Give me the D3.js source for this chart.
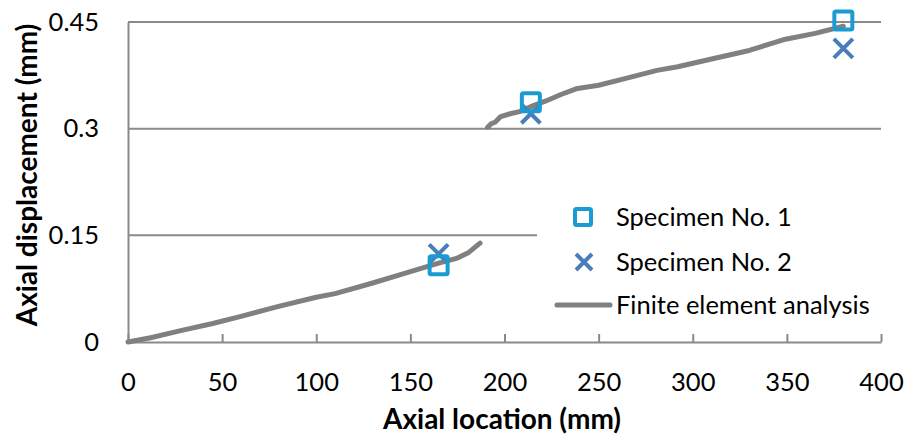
<!DOCTYPE html>
<html>
<head>
<meta charset="utf-8">
<script src="https://cdn.jsdelivr.net/npm/d3@7"></script>
<style>
  body { margin: 0; background: #fff; }
  text { font-family: Lato, "Open Sans", sans-serif; fill: #000; }
</style>
</head>
<body>
<svg width="909" height="436"></svg>
<script>
// data
const xTicks = [0, 50, 100, 150, 200, 250, 300, 350, 400];
const yTicks = [0, 0.15, 0.3, 0.45];
const yTickLabels = ["0", "0.15", "0.3", "0.45"];

const specimen1 = [[165, 0.108], [214, 0.337], [380, 0.452]];
const specimen2 = [[165, 0.124], [214, 0.321], [380, 0.413]];

// finite element curve, two separate pieces
const feLower = [
  [0, 0], [12, 0.006], [28, 0.016], [45, 0.026], [60, 0.036], [80, 0.05],
  [100, 0.063], [110, 0.068], [130, 0.083], [150, 0.099], [165, 0.111],
  [175, 0.118], [181, 0.126], [187, 0.139]
];
const feUpper = [
  [191, 0.302], [193, 0.307], [195, 0.309], [198, 0.317], [203, 0.321],
  [208, 0.324], [215, 0.332], [222, 0.339], [230, 0.348], [238, 0.356],
  [250, 0.361], [265, 0.371], [281, 0.382], [292, 0.387], [310, 0.398],
  [330, 0.41], [348, 0.425], [365, 0.434], [380, 0.444]
];

const legendItems = ["Specimen No. 1", "Specimen No. 2", "Finite element analysis"];

const svg = d3.select("svg");
const plotLeft = 128, plotRight = 881, plotTop = 22, plotBottom = 342;

const x = d3.scaleLinear().domain([0, 400]).range([plotLeft, plotRight]);
const y = d3.scaleLinear().domain([0, 0.45]).range([plotBottom, plotTop]);

const gray = "#8a8a8a";
const sqColor = "#1a9cd3";
const xColor = "#4a7ebb";
const labelSize = 25.5;

// gridlines
svg.append("g")
  .selectAll("line")
  .data(yTicks.slice(1))
  .enter()
  .append("line")
  .attr("x1", plotLeft)
  .attr("x2", plotRight)
  .attr("y1", (d) => y(d))
  .attr("y2", (d) => y(d))
  .attr("stroke", gray)
  .attr("stroke-width", 2);

// x axis, ticks point up into the plot
const xAxisG = svg.append("g")
  .attr("transform", `translate(0,${plotBottom})`)
  .call(d3.axisBottom(x).tickValues(xTicks).tickSize(-8).tickPadding(0).tickSizeOuter(0));
xAxisG.select(".domain").attr("stroke", gray).attr("stroke-width", 2);
xAxisG.selectAll(".tick line").attr("stroke", gray).attr("stroke-width", 2);
xAxisG.selectAll(".tick text")
  .attr("y", 49)
  .attr("dy", null)
  .attr("font-size", labelSize)
  .attr("fill", "#000")
  .style("font-family", "Lato, sans-serif");

// y axis
const yAxisG = svg.append("g")
  .attr("transform", `translate(${plotLeft},0)`)
  .call(d3.axisLeft(y).tickValues(yTicks).tickSize(0).tickPadding(29)
    .tickFormat((d, i) => yTickLabels[i]));
yAxisG.select(".domain").attr("stroke", gray).attr("stroke-width", 2);
yAxisG.selectAll(".tick text")
  .attr("font-size", labelSize)
  .attr("fill", "#000")
  .style("font-family", "Lato, sans-serif");

// legend box covers the gridline behind it
const lg = svg.append("g");
lg.append("rect")
  .attr("x", 537).attr("y", 190)
  .attr("width", 360).attr("height", 140)
  .attr("fill", "#fff");

// FE curve
const line = d3.line().x((d) => x(d[0])).y((d) => y(d[1]));
svg.append("g")
  .selectAll("path")
  .data([feLower, feUpper])
  .enter()
  .append("path")
  .attr("d", line)
  .attr("fill", "none")
  .attr("stroke", "#808080")
  .attr("stroke-width", 5)
  .attr("stroke-linecap", "round")
  .attr("stroke-linejoin", "round");

// markers
const xMark = (s) => `M${-s},${-s}L${s},${s}M${-s},${s}L${s},${-s}`;

svg.append("g")
  .selectAll("path")
  .data(specimen2)
  .enter()
  .append("path")
  .attr("transform", (d) => `translate(${x(d[0])},${y(d[1])})`)
  .attr("d", xMark(9.5))
  .attr("stroke", xColor)
  .attr("stroke-width", 4)
  .attr("fill", "none");

svg.append("g")
  .selectAll("rect")
  .data(specimen1)
  .enter()
  .append("rect")
  .attr("x", (d) => x(d[0]) - 9)
  .attr("y", (d) => y(d[1]) - 9)
  .attr("width", 18)
  .attr("height", 18)
  .attr("rx", 1.5)
  .attr("fill", "none")
  .attr("stroke", sqColor)
  .attr("stroke-width", 4);

// legend entries
const rowY = [217, 262, 305];
lg.append("rect")
  .attr("x", 575).attr("y", rowY[0] - 8)
  .attr("width", 16).attr("height", 16)
  .attr("rx", 1.5)
  .attr("fill", "none").attr("stroke", sqColor).attr("stroke-width", 4);
lg.append("path")
  .attr("transform", `translate(584,${rowY[1]})`)
  .attr("d", xMark(8))
  .attr("stroke", xColor).attr("stroke-width", 4).attr("fill", "none");
lg.append("line")
  .attr("x1", 557).attr("x2", 610)
  .attr("y1", rowY[2]).attr("y2", rowY[2])
  .attr("stroke", "#808080").attr("stroke-width", 5).attr("stroke-linecap", "round");
lg.selectAll("text")
  .data(legendItems)
  .enter()
  .append("text")
  .attr("x", 616)
  .attr("y", (d, i) => rowY[i])
  .attr("dy", "0.36em")
  .attr("font-size", labelSize)
  .text((d) => d);

// axis titles
svg.append("text")
  .attr("x", 502)
  .attr("y", 429)
  .attr("text-anchor", "middle")
  .attr("font-size", 28)
  .attr("font-weight", "bold")
  .text("Axial location (mm)");

svg.append("text")
  .attr("transform", "translate(37,175) rotate(-90)")
  .attr("text-anchor", "middle")
  .attr("font-size", 28)
  .attr("font-weight", "bold")
  .text("Axial displacement (mm)");
</script>
</body>
</html>
